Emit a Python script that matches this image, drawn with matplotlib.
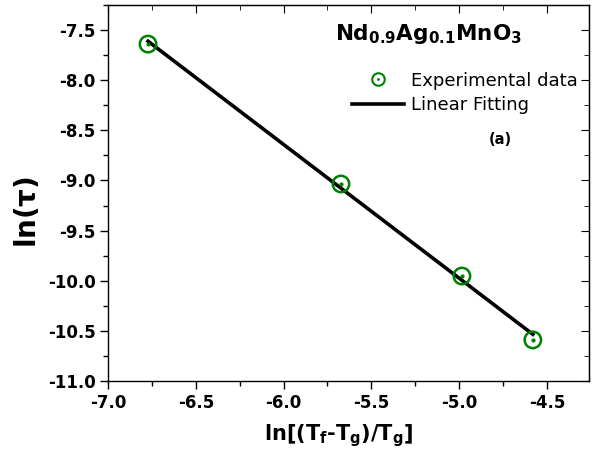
import numpy as np
import matplotlib
matplotlib.use("Agg")
import matplotlib.pyplot as plt
from matplotlib.ticker import MultipleLocator, FormatStrFormatter
from matplotlib.lines import Line2D

plt.rcParams['font.family'] = ['DejaVu Sans']
plt.rcParams['mathtext.fontset'] = 'custom'
plt.rcParams['mathtext.rm'] = 'DejaVu Sans:bold'
plt.rcParams['mathtext.bf'] = 'DejaVu Sans:bold'
plt.rcParams['mathtext.it'] = 'DejaVu Sans:bold'

x_data = [-6.772, -5.673, -4.984, -4.580]
y_data = [-7.64, -9.035, -9.953, -10.59]

slope, intercept = np.polyfit(x_data, y_data, 1)
x_fit = np.array([min(x_data), max(x_data)])
y_fit = slope * x_fit + intercept

fig = plt.figure(figsize=(6.01, 4.61), dpi=100)
ax = fig.add_axes([108/601, 1 - 381/461, (589-108)/601, (381-5)/461])

ax.plot(x_fit, y_fit, color='black', lw=2.6, zorder=2)
ax.scatter(x_data, y_data, s=140, facecolors='none', edgecolors='green', linewidths=1.8, zorder=3)
ax.scatter(x_data, y_data, s=4, color='green', zorder=4)

ax.set_xlim(-7.0, -4.26)
ax.set_ylim(-11.0, -7.25)
ax.xaxis.set_major_locator(MultipleLocator(0.5))
ax.xaxis.set_minor_locator(MultipleLocator(0.25))
ax.yaxis.set_major_locator(MultipleLocator(0.5))
ax.yaxis.set_minor_locator(MultipleLocator(0.25))
ax.tick_params(which='both', direction='out', top=False, right=False, width=1.0)
ax.tick_params(which='major', length=6, labelsize=12, pad=3)
ax.tick_params(which='minor', length=3.5)
ax.xaxis.set_major_formatter(FormatStrFormatter('%.1f'))
ax.yaxis.set_major_formatter(FormatStrFormatter('%.1f'))
for lab in ax.get_xticklabels() + ax.get_yticklabels():
    lab.set_fontweight('bold')

sec_x = ax.secondary_xaxis('top')
sec_x.xaxis.set_major_locator(MultipleLocator(0.5))
sec_x.xaxis.set_minor_locator(MultipleLocator(0.25))
sec_x.tick_params(which='both', direction='in', labeltop=False)
sec_x.tick_params(which='major', length=6)
sec_x.tick_params(which='minor', length=3.5)
sec_y = ax.secondary_yaxis('right')
sec_y.yaxis.set_major_locator(MultipleLocator(0.5))
sec_y.yaxis.set_minor_locator(MultipleLocator(0.25))
sec_y.tick_params(which='both', direction='in', labelright=False)
sec_y.tick_params(which='major', length=6)
sec_y.tick_params(which='minor', length=3.5)

for s in ax.spines.values():
    s.set_linewidth(1.0)

ax.set_xlabel(r'ln[(T$_\mathbf{f}$-T$_\mathbf{g}$)/T$_\mathbf{g}$]', fontsize=15, fontweight='bold')
ax.xaxis.set_label_coords(0.48, -0.11)
ax.set_ylabel(r'ln($\tau$)', fontsize=20, fontweight='bold')
ax.yaxis.set_label_coords(-0.137, 0.449)

ax.text(0.667, 0.907, r'Nd$_{\mathbf{0.9}}$Ag$_{\mathbf{0.1}}$MnO$_{\mathbf{3}}$', transform=ax.transAxes,
        fontsize=15.5, fontweight='bold', ha='center', va='baseline')

h_circ = Line2D([], [], marker='o', ls='none', mfc='none', mec='green', ms=9, mew=1.5)
h_dot = Line2D([], [], marker='.', ls='none', color='green', ms=2)
h_line = Line2D([], [], color='black', lw=2.6)
leg = ax.legend([(h_circ, h_dot), h_line], ['Experimental data', 'Linear Fitting'],
                loc='upper left', bbox_to_anchor=(0.507, 0.823), frameon=False, fontsize=13,
                handlelength=2.9, handletextpad=0.4, labelspacing=0.35, borderaxespad=0, borderpad=0)

ax.text(0.815, 0.641, '(a)', transform=ax.transAxes, fontsize=10.5, fontweight='bold', ha='center', va='center')

fig.savefig('out.png', dpi=100)
